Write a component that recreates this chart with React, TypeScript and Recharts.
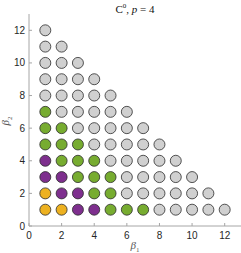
import React from 'react';
import { ScatterChart, Scatter, XAxis, YAxis } from 'recharts';

type Pt = { x: number; y: number };
const toPts = (pairs: number[][]): Pt[] => pairs.map(([x, y]) => ({ x, y }));

const orangePairs = [[1, 1], [2, 1], [1, 2]];
const purplePairs = [[3, 1], [4, 1], [2, 2], [3, 2], [1, 3], [2, 3], [1, 4]];
const greenPairs = [
  [5, 1], [6, 1], [7, 1], [4, 2], [5, 2], [3, 3], [4, 3], [5, 3],
  [2, 4], [3, 4], [4, 4], [1, 5], [2, 5], [3, 5], [1, 6], [2, 6], [1, 7],
];
const grayPairs = [
  [8, 1], [9, 1], [10, 1], [11, 1], [12, 1],
  [6, 2], [7, 2], [8, 2], [9, 2], [10, 2], [11, 2],
  [6, 3], [7, 3], [8, 3], [9, 3], [10, 3],
  [5, 4], [6, 4], [7, 4], [8, 4], [9, 4],
  [4, 5], [5, 5], [6, 5], [7, 5], [8, 5],
  [3, 6], [4, 6], [5, 6], [6, 6], [7, 6],
  [2, 7], [3, 7], [4, 7], [5, 7], [6, 7],
  [1, 8], [2, 8], [3, 8], [4, 8], [5, 8],
  [1, 9], [2, 9], [3, 9], [4, 9],
  [1, 10], [2, 10], [3, 10],
  [1, 11], [2, 11],
  [1, 12],
];
const xTicks = [0, 2, 4, 6, 8, 10, 12];
const yTicks = [0, 2, 4, 6, 8, 10, 12];

const makeShape = (fill: string) => (props: any) => (
  <circle cx={props.cx} cy={props.cy} r={5.5} fill={fill} stroke="#2b2b2b" strokeWidth={0.8} />
);

const tickStyle = { fontFamily: 'Liberation Sans, Arial, sans-serif', fontSize: 10, fill: '#262626' };

export default function App() {
  return (
    <div style={{ position: 'absolute', left: 0, top: 0, width: 241, height: 253, background: '#fff' }}>
      <ScatterChart width={241} height={253} margin={{ top: 14, right: 0, bottom: 0, left: 0 }}>
        <XAxis
          type="number"
          dataKey="x"
          domain={[0, 13]}
          ticks={xTicks}
          height={27}
          tickSize={-3}
          tickMargin={9}
          tick={tickStyle}
          stroke="#a6a6a6"
          axisLine={{ stroke: '#a6a6a6' }}
          tickLine={{ stroke: '#a6a6a6' }}
        />
        <YAxis
          type="number"
          dataKey="y"
          domain={[0, 13]}
          ticks={yTicks}
          width={29}
          tickSize={-3}
          tickMargin={7}
          tick={tickStyle}
          stroke="#a6a6a6"
          axisLine={{ stroke: '#a6a6a6' }}
          tickLine={{ stroke: '#a6a6a6' }}
        />
        <Scatter data={toPts(grayPairs)} shape={makeShape('#d0d0d0')} isAnimationActive={false} />
        <Scatter data={toPts(greenPairs)} shape={makeShape('#77AC30')} isAnimationActive={false} />
        <Scatter data={toPts(purplePairs)} shape={makeShape('#7E2F8E')} isAnimationActive={false} />
        <Scatter data={toPts(orangePairs)} shape={makeShape('#EDB120')} isAnimationActive={false} />
      </ScatterChart>
      <div style={{ position: 'absolute', left: 85, width: 100, top: 0, textAlign: 'center', fontFamily: 'Liberation Serif, serif', fontSize: 11, color: '#111', lineHeight: '13px' }}>
        C<sup style={{ fontSize: 7 }}>0</sup>, <i>p</i> = 4
      </div>
      <div style={{ position: 'absolute', left: 85, width: 100, top: 239, textAlign: 'center', fontFamily: 'Liberation Serif, serif', fontSize: 11, color: '#555', lineHeight: '13px' }}>
        <i>β</i><sub style={{ fontSize: 7 }}>1</sub>
      </div>
      <div style={{ position: 'absolute', left: -42, width: 100, top: 112, textAlign: 'center', fontFamily: 'Liberation Serif, serif', fontSize: 11, color: '#555', lineHeight: '13px', transform: 'rotate(-90deg)' }}>
        <i>β</i><sub style={{ fontSize: 7 }}>2</sub>
      </div>
    </div>
  );
}
